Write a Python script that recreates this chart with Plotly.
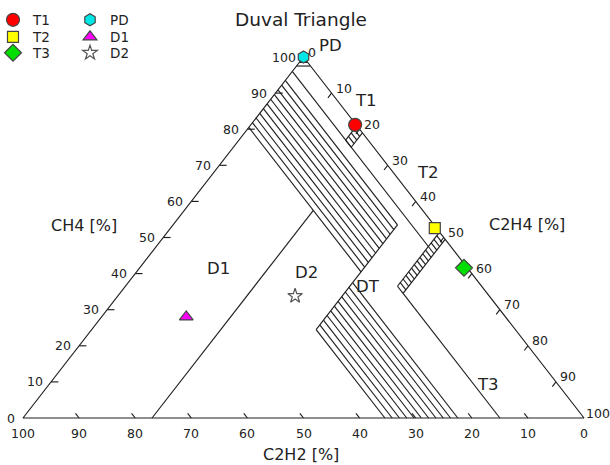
import plotly.graph_objects as go

# ---------------- data (all in %, order: CH4, C2H4, C2H2) ----------------
fault_names = ["T1", "T2", "T3", "PD", "D1", "D2"]
pt_ch4 = [81.2, 52.6, 41.6, 100.0, 28.0, 33.8]
pt_c2h4 = [18.6, 47.1, 57.8, 0.0, 15.1, 31.6]
pt_c2h2 = [0.2, 0.3, 0.6, 0.0, 56.9, 34.6]
fault_colors = ["#ff0000", "#ffff00", "#00dd00", "#00e6e6", "#ff00ff", "#ffffff"]
fault_symbols = ["circle", "square", "diamond", "hexagon", "triangle-up", "star"]
fault_sizes = [13, 11, 13, 12, 12, 11]

tick_values = [0, 10, 20, 30, 40, 50, 60, 70, 80, 90, 100]

# zone boundary polylines (CH4, C2H4, C2H2)
outline = [(100, 0, 0), (0, 100, 0), (0, 0, 100), (100, 0, 0)]
pd_limit_a = [(98.5, 1.5, 0), (98.5, 0, 1.5)]
pd_limit_b = [(97.5, 2.5, 0), (97.5, 0, 2.5)]
t1_dt_limit = [(96, 0, 4), (47.5, 48.5, 4)]
t3_limit = [(34.5, 50.5, 15), (0, 85, 15)]
d1_d2_limit = [(0, 23, 77), (57.5, 23, 19.5)]
d2_dt_link = [(40.5, 40, 19.5), (37.5, 40, 22.5)]

# hatched bands
upper_band_c2h2 = [6.5, 7.8, 9.1, 10.4, 11.7, 13.0, 14.3, 15.6, 16.9, 18.2, 19.5]
upper_band_c2h4 = [0, 40]
lower_band_c2h2 = [22.5, 23.8, 25.1, 26.4, 27.7, 29.0, 30.3, 31.6, 32.9, 34.2, 35.5]
lower_band_c2h4 = 40
t1t2_band_c2h4 = [19, 21]
t1t2_band_rungs = [1, 2, 3, 4]
t2t3_band_c2h4 = [48.5, 50.5]
t2t3_band_rungs = [1, 2, 3, 4, 5, 6, 7, 8, 9, 10, 11, 12, 13, 14, 15]

# zone labels: text and centre position in the 610x465 frame (pixels)
zone_names = ["PD", "T1", "T2", "T3", "D1", "D2", "DT"]
zone_px = [(330, 46), (366, 101), (428, 172), (488, 384), (218, 268), (306, 272), (368, 286)]

# legend entry positions (marker centre, pixels)
legend_px = [(13, 20), (13, 37), (13, 53), (90, 20), (90, 37), (90, 53)]

W, H = 610, 465
FONT = "DejaVu Sans, Verdana, sans-serif"
TXT = "#222222"


def to_xy(p):
    a, b, c = p
    s = a + b + c
    a, b = 100 * a / s, 100 * b / s
    return b + a / 2.0, a


xs, ys = [], []


def add_poly(pts):
    for p in pts:
        x, y = to_xy(p)
        xs.append(x)
        ys.append(y)
    xs.append(None)
    ys.append(None)


add_poly(outline)
add_poly(pd_limit_a)
add_poly(pd_limit_b)
add_poly(t1_dt_limit)
add_poly(t3_limit)
add_poly(d1_d2_limit)
add_poly(d2_dt_link)

# upper hatched band: constant C2H2 lines from left side to C2H4 = 40
for c in upper_band_c2h2:
    add_poly([(100 - c - upper_band_c2h4[0], upper_band_c2h4[0], c),
              (100 - c - upper_band_c2h4[1], upper_band_c2h4[1], c)])
add_poly([(100 - upper_band_c2h2[0] - 40, 40, upper_band_c2h2[0]),
          (100 - upper_band_c2h2[-1] - 40, 40, upper_band_c2h2[-1])])

# lower hatched band: constant C2H2 lines from C2H4 = 40 to the base
for c in lower_band_c2h2:
    add_poly([(100 - c - lower_band_c2h4, lower_band_c2h4, c), (0, 100 - c, c)])
add_poly([(100 - lower_band_c2h2[0] - 40, 40, lower_band_c2h2[0]),
          (100 - lower_band_c2h2[-1] - 40, 40, lower_band_c2h2[-1])])


def ladder(b_edges, rungs):
    cmax = rungs[-1]
    for b in b_edges:
        add_poly([(100 - b, b, 0), (100 - b - cmax, b, cmax)])
    for c in rungs:
        add_poly([(100 - b_edges[0] - c, b_edges[0], c),
                  (100 - b_edges[1] - c, b_edges[1], c)])


ladder(t1t2_band_c2h4, t1t2_band_rungs)
ladder(t2t3_band_c2h4, t2t3_band_rungs)

# ticks
tick_len = 1.3
for v in tick_values[1:-1]:
    add_poly([(v, 0, 100 - v), (v, tick_len, 100 - v - tick_len)])          # CH4 (left)
    add_poly([(100 - v, v, 0), (100 - v - tick_len, v, tick_len)])          # C2H4 (right)
    add_poly([(0, 100 - v, v), (tick_len, 100 - v - tick_len, v)])          # C2H2 (base)

fig = go.Figure()
fig.add_trace(go.Scatter(x=xs, y=ys, mode="lines", hoverinfo="skip",
                         line=dict(color="#1e1e1e", width=1.15), showlegend=False))

leg_font = dict(family=FONT, size=13.5, color=TXT)
legend_layout = {}
for i, name in enumerate(fault_names):
    lname = "legend" if i == 0 else "legend%d" % (i + 1)
    x, y = to_xy((pt_ch4[i], pt_c2h4[i], pt_c2h2[i]))
    fig.add_trace(go.Scatter(
        x=[x], y=[y], mode="markers", name=name, legend=lname,
        marker=dict(symbol=fault_symbols[i], size=fault_sizes[i], color=fault_colors[i],
                    line=dict(color="#444444" if name != "D2" else "#555555", width=1.2))))
    mx, my = legend_px[i]
    legend_layout[lname] = dict(x=(mx - 20) / W, y=1 - my / H, xanchor="left", yanchor="middle",
                                font=leg_font, bgcolor="rgba(0,0,0,0)", borderwidth=0)

ann = []
font_t = dict(family=FONT, size=12.5, color=TXT)
for v in tick_values:
    x, y = to_xy((v, 0, 100 - v))
    ann.append(dict(x=x, y=y, text=str(v), showarrow=False, xanchor="right",
                    yanchor="middle", xshift=-6, font=font_t))
    x, y = to_xy((100 - v, v, 0))
    ann.append(dict(x=x, y=y, text=str(v), showarrow=False, xanchor="left",
                    yanchor="middle", xshift=2 if v < 100 else 0, yshift=5, font=font_t))
    x, y = to_xy((0, 100 - v, v))
    ann.append(dict(x=x, y=y, text=str(v), showarrow=False, xanchor="center",
                    yanchor="top", yshift=-6, font=font_t))


def paper_text(px, py, text, font):
    return dict(x=px / W, y=1 - py / H, xref="paper", yref="paper", text=text,
                xanchor="center", yanchor="middle", showarrow=False, font=font)


font_z = dict(family=FONT, size=16.5, color=TXT)
for name, (px, py) in zip(zone_names, zone_px):
    ann.append(paper_text(px, py, name, font_z))

font_ax = dict(family=FONT, size=16, color=TXT)
ann.append(paper_text(84, 225, "CH4 [%]", font_ax))
ann.append(paper_text(527, 224, "C2H4 [%]", font_ax))
ann.append(paper_text(301, 454, "C2H2 [%]", font_ax))
ann.append(paper_text(301, 19, "Duval Triangle", dict(family=FONT, size=18.5, color=TXT)))

fig.update_layout(
    width=W, height=H, autosize=False,
    margin=dict(l=0, r=0, t=0, b=0, pad=0, autoexpand=False),
    paper_bgcolor="white", plot_bgcolor="white",
    xaxis=dict(range=[-4.10, 104.63], visible=False, fixedrange=True),
    yaxis=dict(range=[-13.02, 115.79], visible=False, fixedrange=True),
    annotations=ann,
    **legend_layout,
)

fig.write_html("out.html", config={"displayModeBar": False},
               post_script="document.body.style.margin='0';document.body.style.overflow='hidden';")
